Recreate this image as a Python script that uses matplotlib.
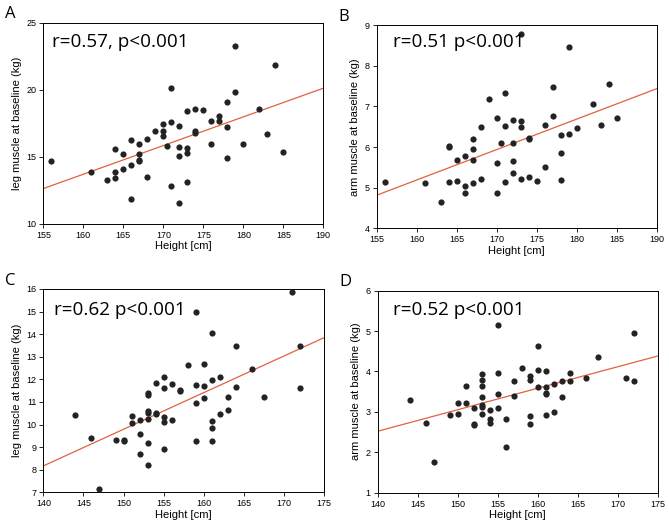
import numpy as np
import matplotlib
matplotlib.use('Agg')
from matplotlib import pyplot as plt

plt.rcParams['font.family'] = ['Liberation Sans', 'DejaVu Sans']

# Panel A: men, leg muscle
men_height = [156, 161, 163, 164, 164, 164, 165, 165, 166, 166, 166, 167, 167, 167, 167, 168, 168,
              169, 170, 170, 170, 170.5, 171, 171, 171, 172, 172, 172, 172, 173, 173, 173, 173,
              174, 174, 174, 175, 176, 176, 177, 177, 178, 178, 178, 179, 179, 180, 182, 183, 184, 185]
men_leg = [14.7, 13.9, 13.3, 15.56, 13.9, 13.45, 15.2, 14.1, 16.26, 14.42, 11.84, 15.96, 15.21, 14.77, 14.72,
           16.33, 13.53, 16.93, 17.45, 16.95, 16.56, 15.79, 17.6, 20.13, 12.8, 17.33, 15.71, 15.09, 11.54,
           18.44, 15.66, 15.29, 13.1, 18.54, 16.93, 16.81, 18.49, 17.65, 15.96, 18.05, 17.67, 19.09, 17.2,
           14.89, 19.81, 23.26, 15.94, 18.59, 16.73, 21.85, 15.39]

# Panel B: men, arm muscle
men_height_b = [156, 161, 163, 164, 164, 164, 165, 165, 166, 166, 166, 167, 167, 167, 167, 168, 168,
                169, 170, 170, 170, 170.5, 171, 171, 171, 172, 172, 172, 172, 173, 173, 173, 173,
                174, 174, 174, 175, 176, 176, 177, 177, 178, 178, 178, 179, 179, 180, 182, 183, 184, 185]
men_arm = [5.13, 5.12, 4.66, 6.03, 6.01, 5.14, 5.67, 5.17, 5.79, 5.05, 4.86, 6.21, 5.96, 5.68, 5.11,
           6.49, 5.22, 7.18, 6.71, 5.6, 4.87, 6.09, 7.33, 6.53, 5.15, 6.67, 6.09, 5.66, 5.36,
           6.65, 6.5, 5.22, 8.79, 6.22, 6.19, 5.26, 5.17, 6.54, 5.52, 7.49, 6.77, 6.29, 5.86,
           5.18, 8.47, 6.32, 6.46, 7.05, 6.55, 7.56, 6.72]

# Panel C: women, leg muscle
women_height_c = [144, 146, 147, 149, 150, 150, 151, 151, 152, 152, 152, 153, 153, 153, 153, 153, 153, 153,
                  154, 154, 154, 155, 155, 155, 155, 155, 156, 156, 157, 157, 158, 159, 159, 159, 159,
                  160, 160, 160, 161, 161, 161, 161, 161, 162, 162, 163, 163, 164, 164, 166, 167.5,
                  171, 172, 172]
women_leg = [10.42, 9.42, 7.15, 9.3, 9.32, 9.25, 10.37, 10.07, 10.19, 9.57, 8.68, 11.41, 11.31, 10.62,
             10.51, 10.26, 9.19, 8.2, 11.84, 10.5, 10.45, 12.1, 11.6, 10.35, 10.1, 8.93, 11.78, 10.22,
             11.55, 11.47, 12.65, 14.98, 11.75, 10.96, 9.27, 12.68, 11.72, 11.16, 14.04, 11.96, 10.17,
             9.83, 9.29, 12.12, 10.48, 11.21, 10.65, 13.46, 11.68, 12.46, 11.22, 15.88, 13.48, 11.63]

# Panel D: women, arm muscle
women_height_d = [144, 146, 147, 149, 150, 150, 151, 151, 152, 152, 152, 153, 153, 153, 153, 153, 153, 153,
                  154, 154, 154, 155, 155, 155, 155, 156, 156, 157, 157, 158, 159, 159, 159, 159,
                  160, 160, 160, 161, 161, 161, 161, 161, 162, 162, 163, 163, 164, 164, 166, 167.5,
                  171, 172, 172]
women_arm = [3.29, 2.73, 1.77, 2.92, 3.21, 2.94, 3.64, 3.23, 3.1, 2.7, 2.68, 3.93, 3.78, 3.64, 3.36,
             3.17, 3.13, 2.94, 3.05, 2.82, 2.73, 5.16, 3.97, 3.43, 3.09, 2.83, 2.13, 3.77, 3.4, 4.09,
             3.89, 3.8, 2.91, 2.7, 4.62, 4.04, 3.61, 4.02, 3.61, 3.46, 3.44, 2.92, 3.68, 3.0, 3.77,
             3.38, 3.95, 3.76, 3.83, 4.35, 3.85, 4.96, 3.76]

# letter, x, y, ylabel, xlim, ylim, ytick step, annotation
panels = [
    ('A', men_height, men_leg, 'leg muscle at baseline (kg)', (155, 190), (10, 25), 5, 'r=0.57, p<0.001'),
    ('B', men_height_b, men_arm, 'arm muscle at baseline (kg)', (155, 190), (4, 9), 1, 'r=0.51 p<0.001'),
    ('C', women_height_c, women_leg, 'leg muscle at baseline (kg)', (140, 175), (7, 16), 1, 'r=0.62 p<0.001'),
    ('D', women_height_d, women_arm, 'arm muscle at baseline (kg)', (140, 175), (1, 6), 1, 'r=0.52 p<0.001'),
]

positions = [
    [0.0648, 0.5758, 0.4185, 0.3812],
    [0.5631, 0.5676, 0.4185, 0.3845],
    [0.0648, 0.0676, 0.4196, 0.3851],
    [0.5646, 0.0669, 0.4185, 0.3826],
]
note_xy = [(0.03, 0.879), (0.059, 0.895), (0.039, 0.873), (0.056, 0.881)]

fig = plt.figure(figsize=(6.69, 5.28), dpi=100)

for (letter, x, y, ylabel, xlim, ylim, ystep, note), pos, nxy in zip(panels, positions, note_xy):
    ax = fig.add_axes(pos)
    ax.scatter(x, y, s=20, color='#232323', zorder=3, linewidths=0)
    # least-squares fit line
    slope, intercept = np.polyfit(x, y, 1)
    xs = np.array(xlim)
    ax.plot(xs, intercept + slope * xs, color='#e0623e', lw=0.9, zorder=2)
    ax.set_xlim(xlim)
    ax.set_ylim(ylim)
    ax.set_xticks(np.arange(xlim[0], xlim[1] + 1, 5))
    ax.set_yticks(np.arange(ylim[0], ylim[1] + 1, ystep))
    ax.tick_params(labelsize=6.5, length=3, width=0.6, direction='out', pad=2)
    for sp in ax.spines.values():
        sp.set_linewidth(0.7)
    ax.set_xlabel('Height [cm]', fontsize=8, labelpad=1)
    ax.set_ylabel(ylabel, fontsize=8, labelpad=3)
    ax.text(nxy[0], nxy[1], note, transform=ax.transAxes, fontsize=13.6, va='baseline',
            family='Open Sans')
    fig.text(pos[0] - 0.058, pos[1] + pos[3] + 0.008, letter, fontsize=12, family='Open Sans')

plt.savefig('out.png', dpi=100)
